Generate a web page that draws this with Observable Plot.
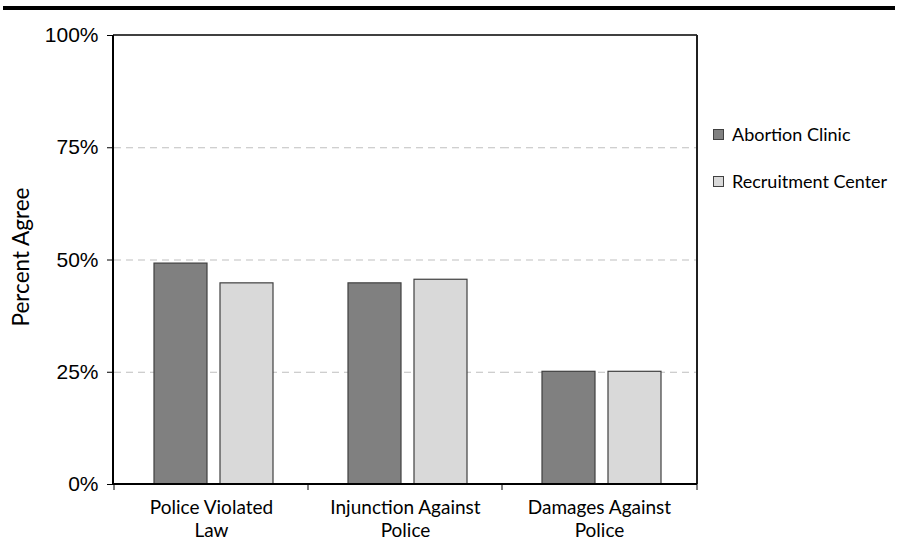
<!DOCTYPE html>
<html>
<head>
<meta charset="utf-8">
<script src="https://cdn.jsdelivr.net/npm/d3@7"></script>
<script src="https://cdn.jsdelivr.net/npm/@observablehq/plot@0.6"></script>
<style>
  html, body { margin: 0; padding: 0; background: #fff; }
  #wrap { position: relative; width: 897px; height: 542px; overflow: hidden; }
  #topline { position: absolute; left: 3px; right: 2px; top: 6px; height: 4px; background: #000; }
  #ylabel { position: absolute; left: 20px; top: 257px; transform: translate(-50%, -50%) rotate(-90deg);
            font-family: Lato, sans-serif; font-size: 22.5px; white-space: nowrap; color: #000; }
  #legend { position: absolute; left: 713px; top: 0; font-family: Lato, sans-serif; font-size: 18px; color: #000; }
  .item { position: absolute; left: 0; white-space: nowrap; display: flex; align-items: center; }
  .sw { width: 9px; height: 9px; border: 1px solid #404040; margin-right: 8px; }
  svg { position: absolute; left: 0; top: 0; }
</style>
</head>
<body>
<div id="wrap">
  <div id="topline"></div>
  <div id="ylabel">Percent Agree</div>
  <div id="legend"></div>
</div>
<script>
const categories = ["Police Violated Law", "Injunction Against Police", "Damages Against Police"];
const tickLabels = ["Police Violated\nLaw", "Injunction Against\nPolice", "Damages Against\nPolice"];
const series = ["Abortion Clinic", "Recruitment Center"];
const abortionClinic = [49.2, 44.8, 25.1];
const recruitmentCenter = [44.8, 45.6, 25.1];
const seriesColors = ["#808080", "#d9d9d9"];
const yTicks = [0, 25, 50, 75, 100];
const gridTicks = [25, 50, 75];

const data = [];
categories.forEach((c, i) => {
  data.push({cat: c, series: series[0], value: abortionClinic[i]});
  data.push({cat: c, series: series[1], value: recruitmentCenter[i]});
});

const plot = Plot.plot({
  width: 897,
  height: 542,
  marginTop: 35,
  marginBottom: 58,
  marginLeft: 113,
  marginRight: 200,
  style: {background: "transparent", overflow: "visible"},
  fx: {domain: categories, padding: 0, label: null, axis: null},
  x: {domain: series, paddingInner: 0.194, paddingOuter: 0.552, align: 0.53, axis: null},
  y: {domain: [0, 100], axis: null},
  color: {domain: series, range: seriesColors},
  marks: [
    Plot.ruleY(gridTicks, {stroke: "#bfbfbf", strokeWidth: 1, strokeDasharray: "7,5"}),
    Plot.barY(data, {fx: "cat", x: "series", y: "value", fill: "series", stroke: "#404040", strokeWidth: 1.2}),
    Plot.axisY({ticks: yTicks, tickFormat: d => d + "%", tickSize: 7, tickPadding: 9, stroke: "#000",
                fontSize: 21, fontFamily: "Liberation Sans, Arial, sans-serif", fill: "#000", label: null}),
    Plot.axisFx({anchor: "bottom", tickSize: 0, tickPadding: 12, fontSize: 19, fontFamily: "Lato, sans-serif",
                 fill: "#000", lineHeight: 1.26, label: null,
                 tickFormat: d => tickLabels[categories.indexOf(d)]})
  ]
});

const svg = d3.select(plot);
const fx = plot.scale("fx");
const y = plot.scale("y");
const x0 = fx.range[0], x1 = fx.range[1];
const yTop = y.apply(100), yBot = y.apply(0);
// category boundary ticks below the axis
const bounds = categories.map(c => fx.apply(c)).concat([x1]);
svg.append("g").selectAll("line").data(bounds).join("line")
  .attr("x1", d => d).attr("x2", d => d).attr("y1", yBot).attr("y2", yBot + 6)
  .attr("stroke", "#000").attr("stroke-width", 1);
// plot frame
svg.append("line").attr("x1", x0).attr("x2", x1).attr("y1", yTop).attr("y2", yTop).attr("stroke", "#404040").attr("stroke-width", 2);
svg.append("line").attr("x1", x1).attr("x2", x1).attr("y1", yTop).attr("y2", yBot).attr("stroke", "#202020").attr("stroke-width", 2);
svg.append("line").attr("x1", x0).attr("x2", x1).attr("y1", yBot).attr("y2", yBot).attr("stroke", "#000").attr("stroke-width", 2);
svg.append("line").attr("x1", x0).attr("x2", x0).attr("y1", yTop).attr("y2", yBot).attr("stroke", "#000").attr("stroke-width", 2);

document.getElementById("wrap").appendChild(plot);

const legend = document.getElementById("legend");
const legendY = [134, 181];
series.forEach((s, i) => {
  const it = document.createElement("div");
  it.className = "item";
  it.style.top = (legendY[i] - 11) + "px";
  it.style.height = "22px";
  it.innerHTML = `<span class="sw" style="background:${seriesColors[i]}"></span><span>${s}</span>`;
  legend.appendChild(it);
});
</script>
</body>
</html>
